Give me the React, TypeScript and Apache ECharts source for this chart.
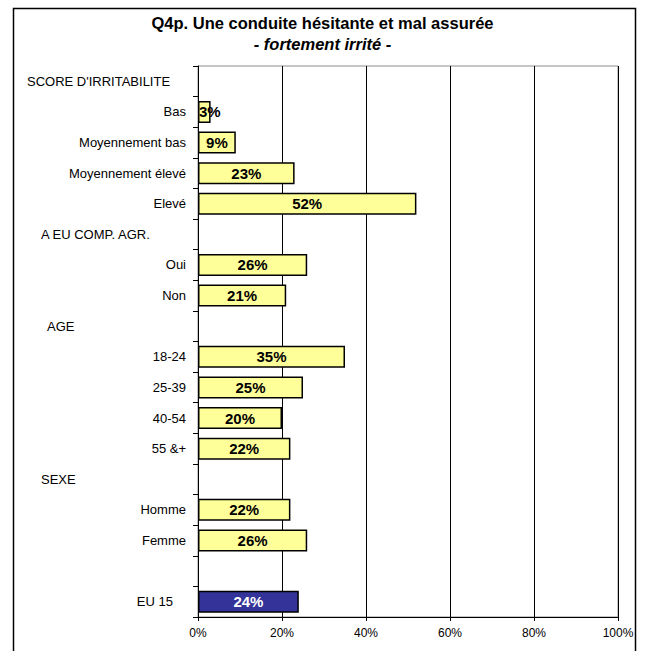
import React, { useEffect, useRef } from "react";
import * as echarts from "echarts";

const categories = [
  "SCORE D'IRRITABILITE",
  "Bas",
  "Moyennement bas",
  "Moyennement élevé",
  "Elevé",
  "A EU COMP. AGR.",
  "Oui",
  "Non",
  "AGE",
  "18-24",
  "25-39",
  "40-54",
  "55 &+",
  "SEXE",
  "Homme",
  "Femme",
  " ",
  "EU 15",
];
const values: (number | null)[] = [
  null, 3, 9, 23, 52, null, 26, 21, null, 35, 25, 20, 22, null, 22, 26, null, 24,
];
const headers = ["SCORE D'IRRITABILITE", "A EU COMP. AGR.", "AGE", "SEXE"];
const headerStyle: Record<string, string> = {
  "SCORE D'IRRITABILITE": "h1",
  "A EU COMP. AGR.": "h2",
  AGE: "h3",
  SEXE: "h2",
};
const xTicks = [0, 20, 40, 60, 80, 100];
const totalLabel = "EU 15";

export default function App() {
  const ref = useRef<HTMLDivElement>(null);
  useEffect(() => {
    if (!ref.current) return;
    const chart = echarts.init(ref.current, null, { renderer: "svg" });
    const font = "'Liberation Sans', Arial, sans-serif";
    chart.setOption({
      animation: false,
      backgroundColor: "#ffffff",
      textStyle: { fontFamily: font },
      title: {
        text: "Q4p. Une conduite hésitante et mal assurée",
        subtext: "- fortement irrité -",
        left: "center",
        top: 9,
        itemGap: 4,
        textStyle: { fontFamily: font, fontSize: 16.5, fontWeight: "bold", color: "#000" },
        subtextStyle: {
          fontFamily: font,
          fontSize: 16.5,
          fontWeight: "bold",
          fontStyle: "italic",
          color: "#000",
        },
      },
      graphic: [
        {
          type: "rect",
          shape: { x: 13.5, y: 8.5, width: 622, height: 660 },
          style: { fill: "none", stroke: "#000", lineWidth: 1.5 },
          silent: true,
        },
      ],
      grid: {
        left: 198,
        right: 27,
        top: 66,
        bottom: 34,
        show: true,
        borderColor: "#8c8c8c",
        borderWidth: 1,
      },
      xAxis: {
        type: "value",
        min: xTicks[0],
        max: xTicks[xTicks.length - 1],
        interval: 20,
        axisLine: { show: true, lineStyle: { color: "#000", width: 1 } },
        axisTick: { show: true, length: 4, lineStyle: { color: "#000" } },
        splitLine: { show: true, lineStyle: { color: "#000", width: 1 } },
        axisLabel: {
          formatter: "{value}%",
          fontSize: 12,
          color: "#000",
          margin: 10,
          fontFamily: font,
        },
      },
      yAxis: {
        type: "category",
        inverse: true,
        data: categories,
        axisLine: { show: true, lineStyle: { color: "#000", width: 1 } },
        axisTick: { show: true, length: 5, interval: 0, lineStyle: { color: "#000" } },
        axisLabel: {
          interval: 0,
          margin: 12,
          fontSize: 13,
          color: "#000",
          fontFamily: font,
          formatter: (v: string) => {
            if (headers.includes(v)) return `{${headerStyle[v]}|${v}}`;
            if (v === totalLabel) return `{t|${v}}`;
            return v;
          },
          rich: {
            h1: { width: 159, align: "left", fontSize: 13, fontFamily: font, color: "#000" },
            h2: { width: 145, align: "left", fontSize: 13, fontFamily: font, color: "#000" },
            h3: { width: 139, align: "left", fontSize: 13, fontFamily: font, color: "#000" },
            t: { padding: [0, 13, 0, 0], fontSize: 13, fontFamily: font, color: "#000" },
          },
        },
      },
      series: [
        {
          type: "bar",
          barWidth: 22,
          data: values.map((v, i) => {
            if (categories[i] === totalLabel)
              return {
                value: v,
                itemStyle: { color: "#333399" },
                label: { color: "#fff" },
              };
            if (v !== null && v < 5)
              return { value: v, label: { position: "insideLeft", distance: 1 } };
            return v;
          }),
          itemStyle: { color: "#FFFF99", borderColor: "#000", borderWidth: 1.5 },
          label: {
            show: true,
            position: "inside",
            formatter: "{c}%",
            fontSize: 15,
            fontWeight: "bold",
            color: "#000",
            fontFamily: font,
          },
        },
      ],
    });
    return () => chart.dispose();
  }, []);
  return (
    <div
      ref={ref}
      style={{ position: "absolute", left: 0, top: 0, width: 645, height: 651 }}
    />
  );
}
